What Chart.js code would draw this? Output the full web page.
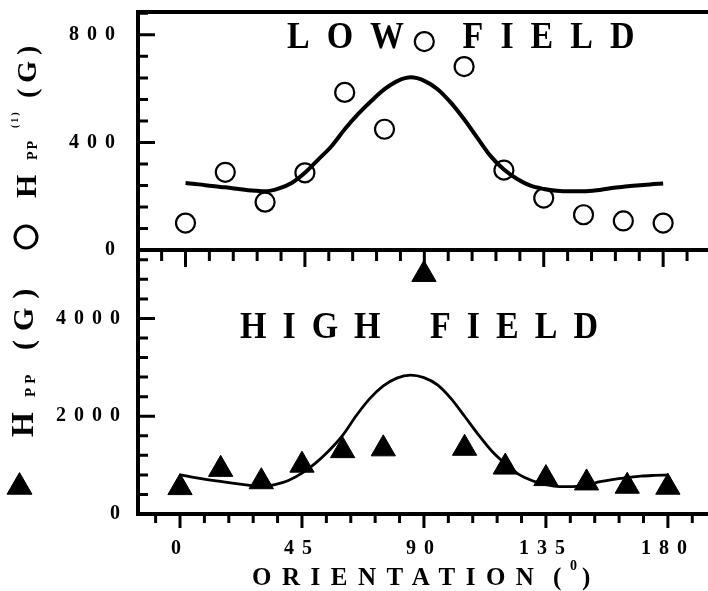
<!DOCTYPE html>
<html>
<head>
<meta charset="utf-8">
<script src="https://cdn.jsdelivr.net/npm/chart.js@4.4.1/dist/chart.umd.min.js"></script>
<style>
  html, body { margin: 0; padding: 0; background: #fff; overflow: hidden; }
  #wrap { position: relative; width: 708px; height: 591px; overflow: hidden; }
  canvas { position: absolute; left: 0; top: 0; display: block; }
</style>
</head>
<body>
<div id="wrap">
  <canvas id="highChart" width="708" height="591"></canvas>
  <canvas id="lowChart" width="708" height="591"></canvas>
</div>
<script>
// ---------------- data ----------------
const orientationDeg = [0, 15, 30, 45, 60, 75, 90, 105, 120, 135, 150, 165, 180];
const lowFieldHpp  = [100, 289, 178, 287, 586, 449, 775, 682, 297, 193, 131, 108, 100];
const highFieldHpp = [540, 913, 660, 999, 1296, 1333, 4900, 1344, 960, 724, 636, 568, 548];

const fitDeg = [0, 5, 10, 15, 20, 25, 30, 35, 40, 45, 50, 55, 60, 65, 70, 75, 80, 85, 90,
                95, 100, 105, 110, 115, 120, 125, 130, 135, 140, 145, 150, 155, 160, 165, 170, 175, 180];
const lowFieldFit  = [249, 244, 238, 233, 227, 221, 218, 228, 249, 287, 336, 386, 449, 505, 554, 598, 629, 642, 629,
                      598, 548, 486, 417, 349, 299, 264, 239, 227, 220, 218, 218, 222, 230, 235, 240, 244, 247];
const highFieldFit = [800, 750, 705, 665, 625, 590, 560, 600, 685, 835, 1040, 1300, 1610, 2010, 2360, 2620, 2780, 2840, 2790,
                      2640, 2360, 2000, 1630, 1290, 1030, 810, 680, 600, 560, 560, 590, 660, 710, 745, 775, 790, 800];

const lowYTickLabels  = [0, 400, 800];
const highYTickLabels = [0, 2000, 4000];
const xTickLabels     = [0, 45, 90, 135, 180];

const lowPanelLabel  = 'LOW FIELD';
const highPanelLabel = 'HIGH FIELD';
const xAxisTitle     = 'ORIENTATION';

// ---------------- helpers ----------------
const SERIF = '"Liberation Serif", "Times New Roman", serif';
const toPoints = (xs, ys) => xs.map((x, i) => ({ x: x, y: ys[i] }));

function rotatedRuns(ctx, ox, oy, runs) {
  ctx.save();
  ctx.translate(ox, oy);
  ctx.rotate(-Math.PI / 2);
  ctx.textAlign = 'left';
  ctx.textBaseline = 'alphabetic';
  for (const r of runs) {
    ctx.font = 'bold ' + r.size + 'px ' + SERIF;
    ctx.letterSpacing = (r.ls || 0) + 'px';
    ctx.fillText(r.t, r.at, r.dy || 0);
  }
  ctx.restore();
}

const decor = {
  id: 'decor',
  beforeDraw(chart) {
    chart.ctx.letterSpacing = '8px';
  },
  afterDraw(chart, args, o) {
    const ctx = chart.ctx, a = chart.chartArea;
    const xs = chart.scales.x, ys = chart.scales.y;
    ctx.save();
    ctx.letterSpacing = '0px';
    ctx.strokeStyle = '#000';
    ctx.fillStyle = '#000';

    // frame lines
    ctx.lineWidth = 4;
    ctx.lineCap = 'square';
    ctx.beginPath();
    ctx.moveTo(a.right + 4, a.bottom); ctx.lineTo(a.left, a.bottom); ctx.lineTo(a.left, a.top);
    if (o.topBorder) ctx.lineTo(a.right + 4, a.top);
    ctx.stroke();

    // tick marks (inward on y, downward on x)
    ctx.lineWidth = 3;
    ctx.lineCap = 'butt';
    ctx.beginPath();
    for (let v = o.yMinor; v < ys.max; v += o.yMinor) {
      const py = ys.getPixelForValue(v);
      const len = (v % o.yMajor === 0) ? 17 : 10;
      ctx.moveTo(a.left, py); ctx.lineTo(a.left + len, py);
    }
    for (let v = -9; v <= 189; v += 9) {
      const px = xs.getPixelForValue(v);
      if (px < a.left + 3 || px > a.right) continue;
      const len = (v % 45 === 0) ? o.xMajorLen : o.xMinorLen;
      ctx.moveTo(px, a.bottom); ctx.lineTo(px, a.bottom + len);
    }
    ctx.stroke();

    // panel label (slightly tall letters, as in the original)
    ctx.save();
    ctx.translate(o.labelX, o.labelY);
    ctx.scale(1, 1.1);
    ctx.font = 'bold 34px ' + SERIF;
    ctx.letterSpacing = o.labelLs + 'px';
    ctx.wordSpacing = o.labelWs + 'px';
    ctx.textAlign = 'left';
    ctx.textBaseline = 'alphabetic';
    ctx.fillText(o.label, 0, 0);
    ctx.restore();

    // y-axis title with its legend symbol
    const H = Chart.helpers;
    if (o.kind === 'low') {
      ctx.lineWidth = 3;
      ctx.fillStyle = 'rgba(0,0,0,0)';
      H.drawPoint(ctx, { pointStyle: 'circle', radius: 11, borderWidth: 3, rotation: 0 }, 26, 237);
      ctx.fillStyle = '#000';
      rotatedRuns(ctx, 36, 200, [
        { t: 'H',   size: 30, at: 2 },
        { t: 'PP',  size: 14, at: 40, dy: 1, ls: 2 },
        { t: '(1)', size: 10, at: 72, dy: -18, ls: 2 },
        { t: '(G)', size: 28, at: 102, ls: 6 }
      ]);
    } else {
      ctx.lineWidth = 1;
      H.drawPoint(ctx, { pointStyle: 'triangle', radius: 14.4, borderWidth: 1, rotation: 0 }, 19.5, 487);
      rotatedRuns(ctx, 33, 440, [
        { t: 'H',   size: 32, at: 3 },
        { t: 'PP',  size: 15, at: 43, dy: 2, ls: 4 },
        { t: '(G)', size: 30, at: 90, ls: 9 }
      ]);
      // x-axis title
      ctx.textAlign = 'left';
      ctx.textBaseline = 'alphabetic';
      ctx.font = 'bold 25px ' + SERIF;
      ctx.letterSpacing = '10.5px';
      const x0 = 252, yb = 585;
      ctx.fillText(xAxisTitle, x0, yb);
      ctx.letterSpacing = '0px';
      ctx.fillText('(', x0 + 301, yb);
      ctx.fillText(')', x0 + 330, yb);
      ctx.font = 'bold 14px ' + SERIF;
      ctx.fillText('0', x0 + 318, yb - 15);
    }
    ctx.restore();
  }
};

function yScale(max, labels, padding) {
  return {
    type: 'linear', min: 0, max: max,
    grid: { display: false, drawTicks: false },
    border: { display: false },
    afterBuildTicks: s => { s.ticks = labels.map(v => ({ value: v })); },
    afterFit: s => { s.width = 138; s.paddingTop = 0; s.paddingBottom = 0; },
    ticks: { padding: padding, color: '#000', callback: v => String(v),
             font: { family: SERIF, weight: 'bold', size: 20 } }
  };
}

// ---------------- LOW FIELD (top panel) ----------------
new Chart(document.getElementById('lowChart'), {
  type: 'scatter',
  data: {
    datasets: [
      { label: 'low field H_pp(1)', data: toPoints(orientationDeg, lowFieldHpp),
        pointStyle: 'circle', pointRadius: 9.5, pointBorderWidth: 2.2,
        borderColor: '#000', backgroundColor: 'rgba(0,0,0,0)', showLine: false, clip: false },
      { label: 'fit', data: toPoints(fitDeg, lowFieldFit), showLine: true, pointRadius: 0,
        borderColor: '#000', borderWidth: 4, cubicInterpolationMode: 'monotone', clip: false }
    ]
  },
  options: {
    responsive: false, animation: false, events: [],
    layout: { autoPadding: false, padding: { top: 12, bottom: 341, left: 0, right: 0 } },
    plugins: {
      legend: { display: false }, tooltip: { enabled: false },
      decor: { kind: 'low', topBorder: true, yMinor: 80, yMajor: 400, xMajorLen: 17, xMinorLen: 11,
               label: lowPanelLabel, labelX: 287, labelY: 48, labelLs: 17, labelWs: 16 }
    },
    scales: {
      x: { type: 'linear', display: false, min: -17.9, max: 196.9 },
      y: yScale(885, lowYTickLabels, 15)
    }
  },
  plugins: [decor]
});

// ---------------- HIGH FIELD (bottom panel) ----------------
new Chart(document.getElementById('highChart'), {
  type: 'scatter',
  data: {
    datasets: [
      { label: 'high field H_pp', data: toPoints(orientationDeg, highFieldHpp),
        pointStyle: 'triangle', pointRadius: 14, pointBorderWidth: 1,
        borderColor: '#000', backgroundColor: '#000', showLine: false, clip: false },
      { label: 'fit', data: toPoints(fitDeg, highFieldFit), showLine: true, pointRadius: 0,
        borderColor: '#000', borderWidth: 2.8, cubicInterpolationMode: 'monotone', clip: false }
    ]
  },
  options: {
    responsive: false, animation: false, events: [],
    layout: { autoPadding: false, padding: { top: 250, bottom: 0, left: 0, right: 0 } },
    plugins: {
      legend: { display: false }, tooltip: { enabled: false },
      decor: { kind: 'high', topBorder: false, yMinor: 400, yMajor: 2000, xMajorLen: 14, xMinorLen: 9,
               label: highPanelLabel, labelX: 240, labelY: 338, labelLs: 16, labelWs: 9 }
    },
    scales: {
      x: {
        type: 'linear', min: -15.5, max: 194.8,
        grid: { display: false, drawTicks: false },
        border: { display: false },
        afterBuildTicks: s => { s.ticks = xTickLabels.map(v => ({ value: v })); },
        afterFit: s => { s.height = 77; s.paddingLeft = 0; s.paddingRight = 0; },
        ticks: { padding: 23, color: '#000', maxRotation: 0, callback: v => String(v),
                 font: { family: SERIF, weight: 'bold', size: 20 } }
      },
      y: yScale(5400, highYTickLabels, 10)
    }
  },
  plugins: [decor]
});
</script>
</body>
</html>
